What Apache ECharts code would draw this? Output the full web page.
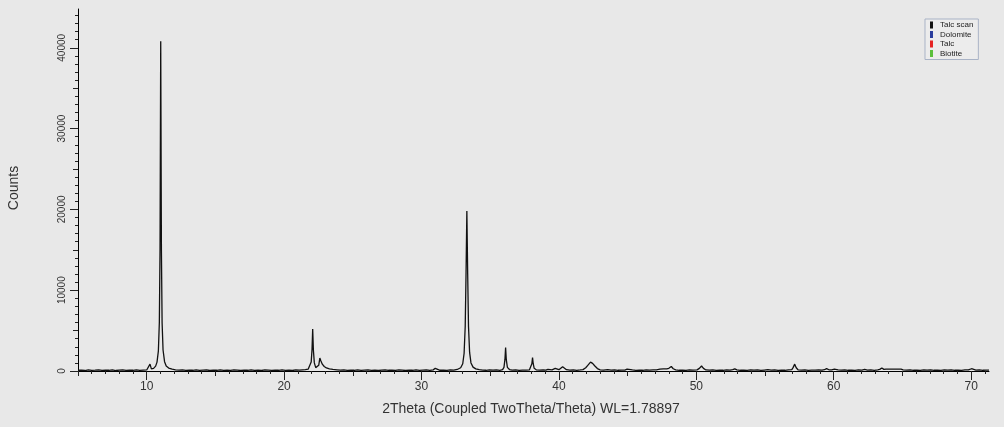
<!DOCTYPE html>
<html>
<head>
<meta charset="utf-8">
<script src="https://cdn.jsdelivr.net/npm/echarts@6/dist/echarts.min.js"></script>
<style>
html,body{margin:0;padding:0;background:#e8e8e8;}
#chart{width:1004px;height:427px;}
</style>
</head>
<body>
<div id="chart"></div>
<script>
// ---- data ----
const scanTwoTheta = [
5.0,5.25,5.5,5.75,6.0,6.25,6.5,6.75,7.0,7.25,7.5,7.75,8.0,8.25,8.5,8.75,9.0,9.25,9.5,9.75,10.0,
10.12,10.24,10.34,10.5,10.65,10.75,10.85,10.92,10.97,11.02,11.07,11.12,11.19,11.3,11.42,11.6,11.85,
12.1,12.35,12.6,12.85,13.1,13.35,13.6,13.85,14.1,14.35,14.6,14.85,15.1,15.35,15.6,15.85,16.1,16.35,16.6,16.85,
17.1,17.35,17.6,17.85,18.1,18.35,18.6,18.85,19.1,19.35,19.6,19.85,20.1,20.35,20.6,20.85,21.1,21.35,21.55,
21.75,21.88,21.97,22.03,22.08,22.13,22.2,22.3,22.42,22.52,22.6,22.68,22.78,22.92,23.08,23.3,23.55,23.85,
24.1,24.35,24.6,24.85,25.1,25.35,25.6,25.85,26.1,26.35,26.6,26.85,27.1,27.35,27.6,27.85,28.1,28.35,28.6,28.85,
29.1,29.35,29.6,29.85,30.1,30.35,30.6,30.85,31.0,31.12,31.35,31.6,31.85,32.1,32.35,32.6,32.85,33.0,33.1,33.18,
33.24,33.3,33.36,33.42,33.5,33.6,33.75,33.95,34.2,
34.45,34.7,34.95,35.2,35.45,35.7,35.9,36.0,36.07,36.12,36.17,36.25,36.4,36.6,36.85,37.1,37.35,37.6,37.85,
37.97,38.03,38.08,38.13,38.2,38.35,38.6,38.85,39.05,39.2,39.32,39.5,39.62,39.73,39.86,40.0,40.13,40.27,40.4,
40.55,40.8,41.05,41.3,41.55,41.75,41.95,42.1,42.3,42.45,42.6,42.8,43.0,43.25,43.55,43.8,44.05,44.3,44.55,44.8,
44.96,45.1,45.35,45.6,45.85,46.1,46.35,46.6,46.85,47.1,47.35,47.6,47.85,48.0,48.18,48.32,48.5,48.75,49.0,49.25,
49.5,49.75,50.05,50.22,50.38,50.52,50.7,50.95,51.2,51.45,51.7,51.95,52.2,52.45,52.65,52.8,52.95,53.2,53.45,
53.7,53.95,54.2,54.45,54.7,54.95,55.2,55.45,55.7,55.95,56.2,56.45,56.7,56.95,57.05,57.16,57.27,57.4,57.65,
57.9,58.15,58.4,58.65,58.9,59.15,59.32,59.48,59.65,59.85,60.05,60.17,60.32,60.55,60.8,61.05,61.3,61.55,61.8,
62.05,62.25,62.45,62.7,62.95,63.2,63.35,63.5,63.65,63.8,64.0,64.3,64.6,64.9,65.05,65.3,65.55,65.8,66.05,
66.3,66.55,66.8,67.05,67.3,67.55,67.8,68.05,68.3,68.55,68.8,69.05,69.3,69.55,69.8,69.93,70.03,70.15,70.35,
70.6,70.85,71.1,71.3
];
const scanCounts = [
90,120,60,140,80,110,150,70,120,90,140,60,110,130,70,120,90,150,80,110,130,
220,850,260,330,600,1100,2500,6000,15000,40800,15000,6000,2600,1150,620,360,220,
150,100,130,80,120,90,140,70,110,130,60,120,90,140,80,110,70,130,100,60,
120,90,140,80,110,60,130,100,70,120,90,140,80,110,60,130,100,140,160,
230,450,1100,2600,5200,2600,1000,420,300,700,1600,1250,850,560,380,260,190,140,
100,130,80,120,90,140,70,110,130,80,120,60,110,140,90,120,70,130,100,60,
120,90,140,80,110,130,70,140,330,130,90,120,80,130,110,190,400,900,2200,5500,
12000,19800,12000,5500,2300,1000,480,260,160,
120,90,140,100,130,90,170,450,1400,2900,1400,450,180,110,140,80,120,100,130,
350,900,1650,900,330,150,100,130,110,210,100,150,250,330,250,160,300,530,340,
160,110,140,90,130,170,400,700,1100,950,650,300,140,100,170,110,130,90,120,110,
220,100,130,80,120,90,140,110,130,150,220,260,270,330,560,280,130,90,120,80,
130,100,140,330,620,330,130,100,130,80,120,90,140,100,160,260,130,90,120,
80,130,100,140,80,120,160,100,130,80,120,90,140,180,450,850,400,150,100,
130,80,120,100,140,110,160,300,150,140,220,300,150,100,130,90,120,80,130,
110,190,100,130,90,140,200,380,200,230,240,230,240,220,130,100,140,90,120,
80,130,100,140,90,120,80,130,100,140,90,120,80,130,140,200,280,180,110,
130,90,120,100
];
const xTickLabels = [10, 20, 30, 40, 50, 60, 70];
const yTickLabels = [0, 10000, 20000, 30000, 40000];
const legendNames = ['Talc scan', 'Dolomite', 'Talc', 'Biotite'];
const legendColors = ['#111111', '#2a3d9c', '#e52222', '#5cbf3c'];
const xTitle = '2Theta (Coupled TwoTheta/Theta) WL=1.78897';
const yTitle = 'Counts';

// ---- build ----
const scan = scanTwoTheta.map((x, i) => [x, scanCounts[i]]);
const X_MIN = 5, X_MAX = 71.3, Y_MIN = 0, Y_MAX = 44800;

const xMid = [], xMinor = [];
for (let v = 5; v <= 71; v += 5) if (v % 10 !== 0) xMid.push(v);
for (let v = 5; v <= 71; v += 1) xMinor.push(v);
const yMid = [], yMinor = [];
for (let v = 5000; v <= 44000; v += 10000) yMid.push(v);
for (let v = 0; v <= 44000; v += 1000) yMinor.push(v);

const FONT = 'Liberation Sans, Arial, sans-serif';
const gridDef = { left: 78, right: 15, top: 9, bottom: 56, containLabel: false };

function xAx(ticks, len, showLine, labels) {
  return {
    type: 'value', min: X_MIN, max: X_MAX, position: 'bottom', gridIndex: 0,
    axisLine: { show: showLine, onZero: false, lineStyle: { color: '#000', width: 1 } },
    axisTick: { show: true, customValues: ticks, length: len, lineStyle: { color: '#222', width: 1 } },
    axisLabel: labels ? { show: true, customValues: labels, formatter: v => String(v), fontFamily: FONT, fontSize: 12, color: '#333', margin: 10 } : { show: false },
    splitLine: { show: false }
  };
}
function yAx(ticks, len, showLine, labels) {
  return {
    type: 'value', min: Y_MIN, max: Y_MAX, position: 'left', gridIndex: 0,
    axisLine: { show: showLine, onZero: false, lineStyle: { color: '#000', width: 1 } },
    axisTick: { show: true, customValues: ticks, length: len, lineStyle: { color: '#222', width: 1 } },
    axisLabel: labels ? { show: true, customValues: labels, formatter: v => String(v), rotate: 90, fontFamily: FONT, fontSize: 10, color: '#333', margin: 11 } : { show: false },
    splitLine: { show: false }
  };
}

const series = [{
  name: legendNames[0], type: 'line', data: scan, xAxisIndex: 0, yAxisIndex: 0,
  showSymbol: false, symbol: 'none', silent: true,
  lineStyle: { color: legendColors[0], width: 1.3 }, itemStyle: { color: legendColors[0] }
}];
for (let i = 1; i < legendNames.length; i++) {
  series.push({ name: legendNames[i], type: 'line', data: [], showSymbol: false,
    lineStyle: { color: legendColors[i] }, itemStyle: { color: legendColors[i] } });
}

const chart = echarts.init(document.getElementById('chart'), null, { renderer: 'canvas' });
chart.setOption({
  animation: false,
  backgroundColor: '#e8e8e8',
  grid: gridDef,
  xAxis: [xAx(xTickLabels, 9, true, xTickLabels), xAx(xMid, 5, false, null), xAx(xMinor, 3, false, null)],
  yAxis: [yAx(yTickLabels, 8, true, yTickLabels), yAx(yMid, 5, false, null), yAx(yMinor, 3, false, null)],
  legend: {
    data: legendNames, orient: 'vertical', left: 925, top: 19,
    icon: 'rect', itemWidth: 3, itemHeight: 7, itemGap: 1.5,
    padding: [2, 5, 2, 5],
    backgroundColor: '#ececec', borderColor: '#a9b3c6', borderWidth: 1, borderRadius: 0,
    textStyle: { fontFamily: FONT, fontSize: 8, color: '#222', padding: [0, 0, 0, 2] },
    selectedMode: false
  },
  graphic: [
    { type: 'text', x: 14, y: 188, rotation: Math.PI / 2, silent: true,
      style: { text: yTitle, font: '14px ' + FONT, fill: '#333', align: 'center', verticalAlign: 'middle' } },
    { type: 'text', x: 531, y: 409, silent: true,
      style: { text: xTitle, font: '14px ' + FONT, fill: '#333', align: 'center', verticalAlign: 'middle' } }
  ],
  series: series
});
</script>
</body>
</html>
